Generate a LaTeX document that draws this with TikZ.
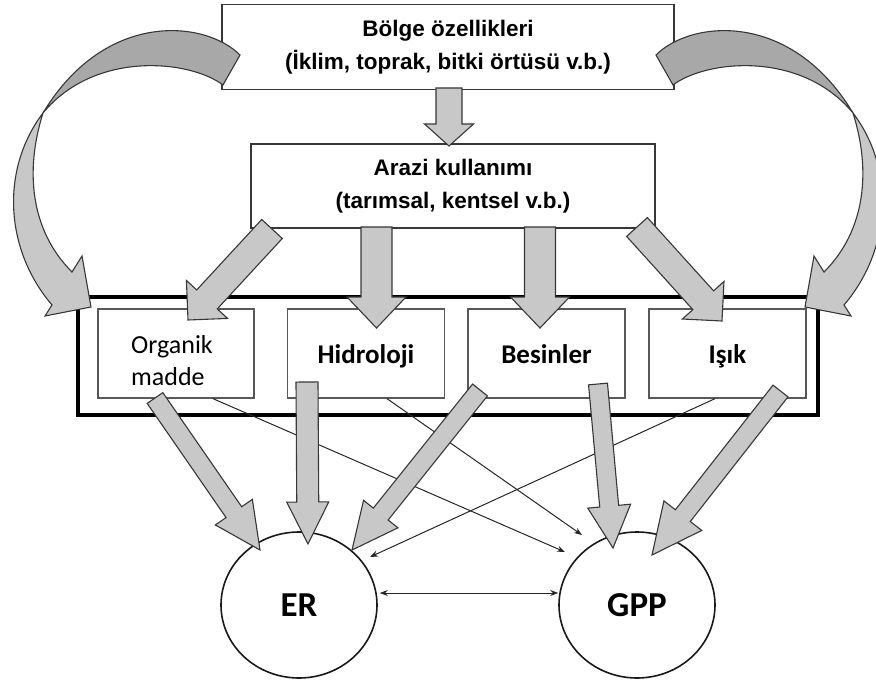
\documentclass[tikz,border=0pt]{standalone}
\usepackage{fontspec}
\setmainfont{Liberation Sans}
\newfontfamily\calibrifont{Carlito}
\usetikzlibrary{calc,arrows.meta,shapes.geometric}

\definecolor{arrowgray}{RGB}{200,200,201}
\definecolor{bandgray}{RGB}{168,168,168}
\definecolor{edgegray}{RGB}{55,55,55}

\tikzset{
  topbox/.style={draw=edgegray, line width=1.6pt, fill=white, inner sep=0pt,
    align=center, font=\bfseries\fontsize{22.5}{33}\selectfont},
  factorbox/.style={draw=black!65, line width=1.3pt, fill=white, inner sep=0pt,
    minimum width=156pt, minimum height=89pt, text height=22pt, text depth=1.6pt,
    font=\calibrifont\bfseries\fontsize{27}{32}\selectfont},
  fluxnode/.style={ellipse, draw=black!90, line width=1.6pt, inner sep=0pt,
    minimum width=156pt, minimum height=146pt, font=\calibrifont\bfseries\fontsize{35}{40}\selectfont},
  fatarrowstyle/.style={fill=arrowgray, draw=edgegray, line width=1.1pt, line join=miter},
  bandback/.style={fill=bandgray, draw=edgegray, line width=1.1pt},
  bandfront/.style={fill=arrowgray, draw=edgegray, line width=1.1pt},
  thinarrow/.style={-{Stealth[length=8pt,width=6pt]}, line width=1pt, black!85},
  bothway/.style={{Stealth[length=8pt,width=6pt]}-{Stealth[length=8pt,width=6pt]}, line width=1pt, black!85}
}

% block arrow: tail, tip, shaft half width, head half width, head length
\newcommand{\fatarrow}[5]{%
  \coordinate (fa-base) at ($(#2)!#5!(#1)$);
  \draw[fatarrowstyle] ($(#1)!#3!90:(#2)$) -- ($(fa-base)!#3!-90:(#1)$)
    -- ($(fa-base)!#4!-90:(#1)$) -- (#2) -- ($(fa-base)!#4!90:(#1)$)
    -- ($(fa-base)!#3!90:(#1)$) -- ($(#1)!#3!-90:(#2)$) -- cycle;}

% twisted side arrow (left one; mirrored for the right)
\newcommand{\sidearrow}{%
  \draw[bandback] (240,55) .. controls (205,20) and (105,10) .. (43,113)
    .. controls (95,50) and (190,60) .. (223,85) -- cycle;
  \draw[bandfront] (43,113) .. controls (0,170) and (5,250) .. (52,305)
    -- (45,316) -- (91,307) -- (82,256) -- (72,272)
    .. controls (30,230) and (25,170) .. (43,113) -- cycle;}

\begin{document}
\begin{tikzpicture}[x=1pt, y=-1pt]
  \useasboundingbox (0,0) rectangle (876,682);

  % boxes
  \node[topbox, minimum width=452pt, minimum height=85pt] (region) at (448,47)
    {Bölge özellikleri\\(İklim, toprak, bitki örtüsü v.b.)};
  \node[topbox, minimum width=404pt, minimum height=84pt] (landuse) at (453,186)
    {Arazi kullanımı\\(tarımsal, kentsel v.b.)};

  \node[draw=black, line width=3.2pt, minimum width=740pt, minimum height=118pt] (factors) at (448,356) {};
  \node[factorbox] (organic) at (176,353.5) {};
  \node[align=left, font=\calibrifont\fontsize{26}{32}\selectfont] (organictext) at (172,361) {Organik\\madde};
  \node[factorbox, minimum width=157pt] (hydro) at (366,353.5) {Hidroloji};
  \node[factorbox, minimum width=157pt] (nutrient) at (546.5,353.5) {Besinler};
  \node[factorbox, minimum width=157pt] (light) at (727.5,353.5) {Işık};

  % ER and GPP
  \node[fluxnode] (er) at (299,605) {ER};
  \node[fluxnode] (gpp) at (637,605) {GPP};

  % thin links
  \draw[thinarrow] ($(organic.south)+(37,0)$) -- ($(gpp.center)+(-72,-53)$);
  \draw[thinarrow] ($(hydro.south)+(21,0)$) -- ($(gpp.center)+(-55,-70)$);
  \draw[thinarrow] ($(light.south)+(-12.5,0)$) -- ($(er.center)+(71,-48)$);
  \draw[bothway] ($(er.east)+(2,-12)$) -- ($(gpp.west)+(0,-12)$);

  % block arrows
  \coordinate (r1) at (449,88);    \coordinate (r2) at (449,146);
  \fatarrow{r1}{r2}{13pt}{24.5pt}{22pt}
  \coordinate (l1) at (272,229);   \coordinate (l2) at (188,320);
  \fatarrow{l1}{l2}{14pt}{28pt}{28pt}
  \coordinate (l3) at (376.5,227); \coordinate (l4) at (376.5,328);
  \fatarrow{l3}{l4}{15.5pt}{29.5pt}{31pt}
  \coordinate (l5) at (540,227);   \coordinate (l6) at (540,328);
  \fatarrow{l5}{l6}{15.5pt}{29.5pt}{31pt}
  \coordinate (l7) at (637,227);   \coordinate (l8) at (722,321);
  \fatarrow{l7}{l8}{14pt}{28pt}{28pt}

  \coordinate (e1) at (155,398);   \coordinate (e2) at (260,550);
  \fatarrow{e1}{e2}{9.5pt}{22.5pt}{46pt}
  \coordinate (e3) at (307,382);   \coordinate (e4) at (308,544);
  \fatarrow{e3}{e4}{11pt}{21pt}{42pt}
  \coordinate (e5) at (480,390);   \coordinate (e6) at (352,550);
  \fatarrow{e5}{e6}{9.5pt}{22pt}{46pt}
  \coordinate (g1) at (598,384);   \coordinate (g2) at (613,548);
  \fatarrow{g1}{g2}{9.5pt}{21.5pt}{42pt}
  \coordinate (g3) at (780.5,391); \coordinate (g4) at (652,555);
  \fatarrow{g3}{g4}{9.5pt}{24pt}{50pt}

  % side arrows
  \sidearrow
  \begin{scope}[shift={(896,0)}, xscale=-1]
    \sidearrow
  \end{scope}
\end{tikzpicture}
\end{document}
